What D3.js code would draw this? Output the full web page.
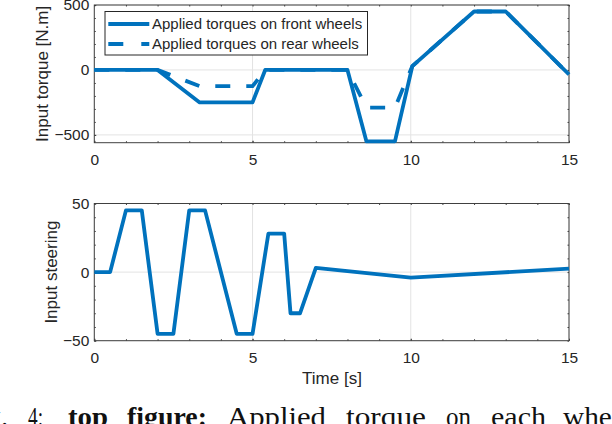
<!DOCTYPE html>
<html>
<head>
<meta charset="utf-8">
<script src="https://cdn.jsdelivr.net/npm/d3@7"></script>
<style>
  body { margin: 0; background: #fff; }
  svg { display: block; }
  text { font-family: "Liberation Sans", Arial, sans-serif; fill: #262626; }
</style>
</head>
<body>
<svg id="chart" width="612" height="424"></svg>
<script>
// top plot: torques
const frontTime = [0, 2, 3.33, 5, 5.4, 8, 8.6, 9.5, 10.05, 12, 13, 15];
const frontTorque = [0, 0, -250, -250, 0, 0, -550, -550, 30, 450, 450, -35];
const rearTime = [0, 2, 3.33, 5, 5.4, 8, 8.6, 9.5, 10.05, 12, 13, 15];
const rearTorque = [0, 0, -125, -125, 0, 0, -290, -290, 30, 450, 450, -35];

// bottom plot: steering
const steerTime = [0, 0.5, 1, 1.5, 2, 2.5, 3, 3.5, 4.5, 5, 5.5, 6, 6.2, 6.5, 7, 10, 15];
const steerValue = [0, 0, 45, 45, -45, -45, 45, 45, -45, -45, 28, 28, -30, -30, 3, -4, 2.5];

const legendLabels = ["Applied torques on front wheels", "Applied torques on rear wheels"];
const xTicks = [0, 5, 10, 15];
const torqueTicks = [-500, 0, 500];
const steerTicks = [-50, 0, 50];

const blue = "#0072BD";
const lw = 3.8;
const svg = d3.select("#chart");

const left = 94.3, right = 569;
const x = d3.scaleLinear().domain([0, 15]).range([left, right]);
const yTop = d3.scaleLinear().domain([-560, 500]).range([142.7, 5]);
const yBot = d3.scaleLinear().domain([-50, 50]).range([340.7, 203.5]);

function drawAxes(y, yMajor, yMinor) {
    const [y0, y1] = y.range();
    const g = svg.append("g");

    // grid
    g.selectAll(".vg").data(xTicks).join("line")
        .attr("x1", d => x(d)).attr("x2", d => x(d))
        .attr("y1", y0).attr("y2", y1)
        .attr("stroke", "#e3e3e3").attr("stroke-width", 1);
    g.selectAll(".hg").data(yMajor).join("line")
        .attr("x1", left).attr("x2", right)
        .attr("y1", d => y(d)).attr("y2", d => y(d))
        .attr("stroke", "#e3e3e3").attr("stroke-width", 1);

    const xMinor = d3.range(0, 16, 1);

    const ax = (gen, tx, ty) => {
        const a = g.append("g").attr("transform", `translate(${tx},${ty})`).call(gen);
        a.select(".domain").remove();
        a.selectAll("line").attr("stroke", "#404040");
        a.selectAll("text").attr("font-size", 15.5).attr("fill", "#262626")
            .attr("font-family", "Liberation Sans, Arial, sans-serif");
        return a;
    };

    ax(d3.axisBottom(x).tickValues(xTicks).tickSize(-2).tickPadding(11), 0, y0);
    ax(d3.axisBottom(x).tickValues(xMinor).tickSize(-1.5).tickFormat(""), 0, y0);
    ax(d3.axisTop(x).tickValues(xMinor).tickSize(-1.5).tickFormat(""), 0, y1);
    ax(d3.axisLeft(y).tickValues(yMajor).tickSize(-2).tickPadding(5), left, 0);
    ax(d3.axisLeft(y).tickValues(yMinor).tickSize(-1.5).tickFormat(""), left, 0);
    ax(d3.axisRight(y).tickValues(yMinor).tickSize(-1.5).tickFormat(""), right, 0);

    g.append("rect")
        .attr("x", left).attr("y", y1)
        .attr("width", right - left).attr("height", y0 - y1)
        .attr("fill", "none").attr("stroke", "#404040").attr("stroke-width", 1);
    return g;
}

drawAxes(yTop, torqueTicks, d3.range(-500, 501, 100));
drawAxes(yBot, steerTicks, d3.range(-50, 51, 10));

const lineTop = d3.line().x(d => x(d[0])).y(d => yTop(d[1]));
const lineBot = d3.line().x(d => x(d[0])).y(d => yBot(d[1]));

svg.append("path")
    .attr("d", lineTop(d3.zip(frontTime, frontTorque)))
    .attr("fill", "none").attr("stroke", blue).attr("stroke-width", lw)
    .attr("stroke-linejoin", "round");
svg.append("path")
    .attr("d", lineTop(d3.zip(rearTime, rearTorque)))
    .attr("fill", "none").attr("stroke", blue).attr("stroke-width", lw)
    .attr("stroke-dasharray", "15,16");
svg.append("path")
    .attr("d", lineBot(d3.zip(steerTime, steerValue)))
    .attr("fill", "none").attr("stroke", blue).attr("stroke-width", lw)
    .attr("stroke-linejoin", "round");

// legend
const lg = svg.append("g");
lg.append("rect").attr("x", 105).attr("y", 11.5).attr("width", 262.5).attr("height", 43.5)
    .attr("fill", "#fff").attr("stroke", "#262626").attr("stroke-width", 1);
legendLabels.forEach((lab, i) => {
    const cy = 24 + i * 20;
    lg.append("line").attr("x1", 108.3).attr("x2", 149.3).attr("y1", cy).attr("y2", cy)
        .attr("stroke", blue).attr("stroke-width", lw)
        .attr("stroke-dasharray", i === 1 ? "15,18" : null);
    lg.append("text").attr("x", 152).attr("y", cy).attr("dy", "0.35em")
        .attr("font-size", 15).text(lab);
});

// axis labels
svg.append("text").attr("transform", `translate(48,${(142.7 + 5) / 2}) rotate(-90)`)
    .attr("text-anchor", "middle").attr("font-size", 17).text("Input torque [N.m]");
svg.append("text").attr("transform", `translate(57,${(340.7 + 203.5) / 2}) rotate(-90)`)
    .attr("text-anchor", "middle").attr("font-size", 17).text("Input steering");
svg.append("text").attr("x", 332).attr("y", 384)
    .attr("text-anchor", "middle").attr("font-size", 17).text("Time [s]");

// caption (cut off by the page edge, as in the source)
const caption = [
    { t: "Fig.", x: 8, anchor: "end" },
    { t: "4:", x: 28, w: 15 }, { t: "top", x: 68, w: 40, bold: true },
    { t: "figure:", x: 127, w: 80, bold: true },
    { t: "Applied", x: 227, w: 99 }, { t: "torque", x: 346, w: 80 }, { t: "on", x: 446, w: 25 },
    { t: "each", x: 491, w: 55 }, { t: "wheel", x: 563, w: 70 }
];
svg.selectAll(".cap").data(caption).join("text")
    .attr("x", d => d.x).attr("y", 426)
    .attr("text-anchor", d => d.anchor || "start")
    .style("font-family", "'Liberation Serif', 'DejaVu Serif', serif")
    .attr("font-size", 27)
    .attr("font-weight", d => d.bold ? "bold" : "normal")
    .attr("textLength", d => d.w || null)
    .attr("lengthAdjust", "spacingAndGlyphs")
    .style("fill", "#111")
    .text(d => d.t);
</script>
</body>
</html>
